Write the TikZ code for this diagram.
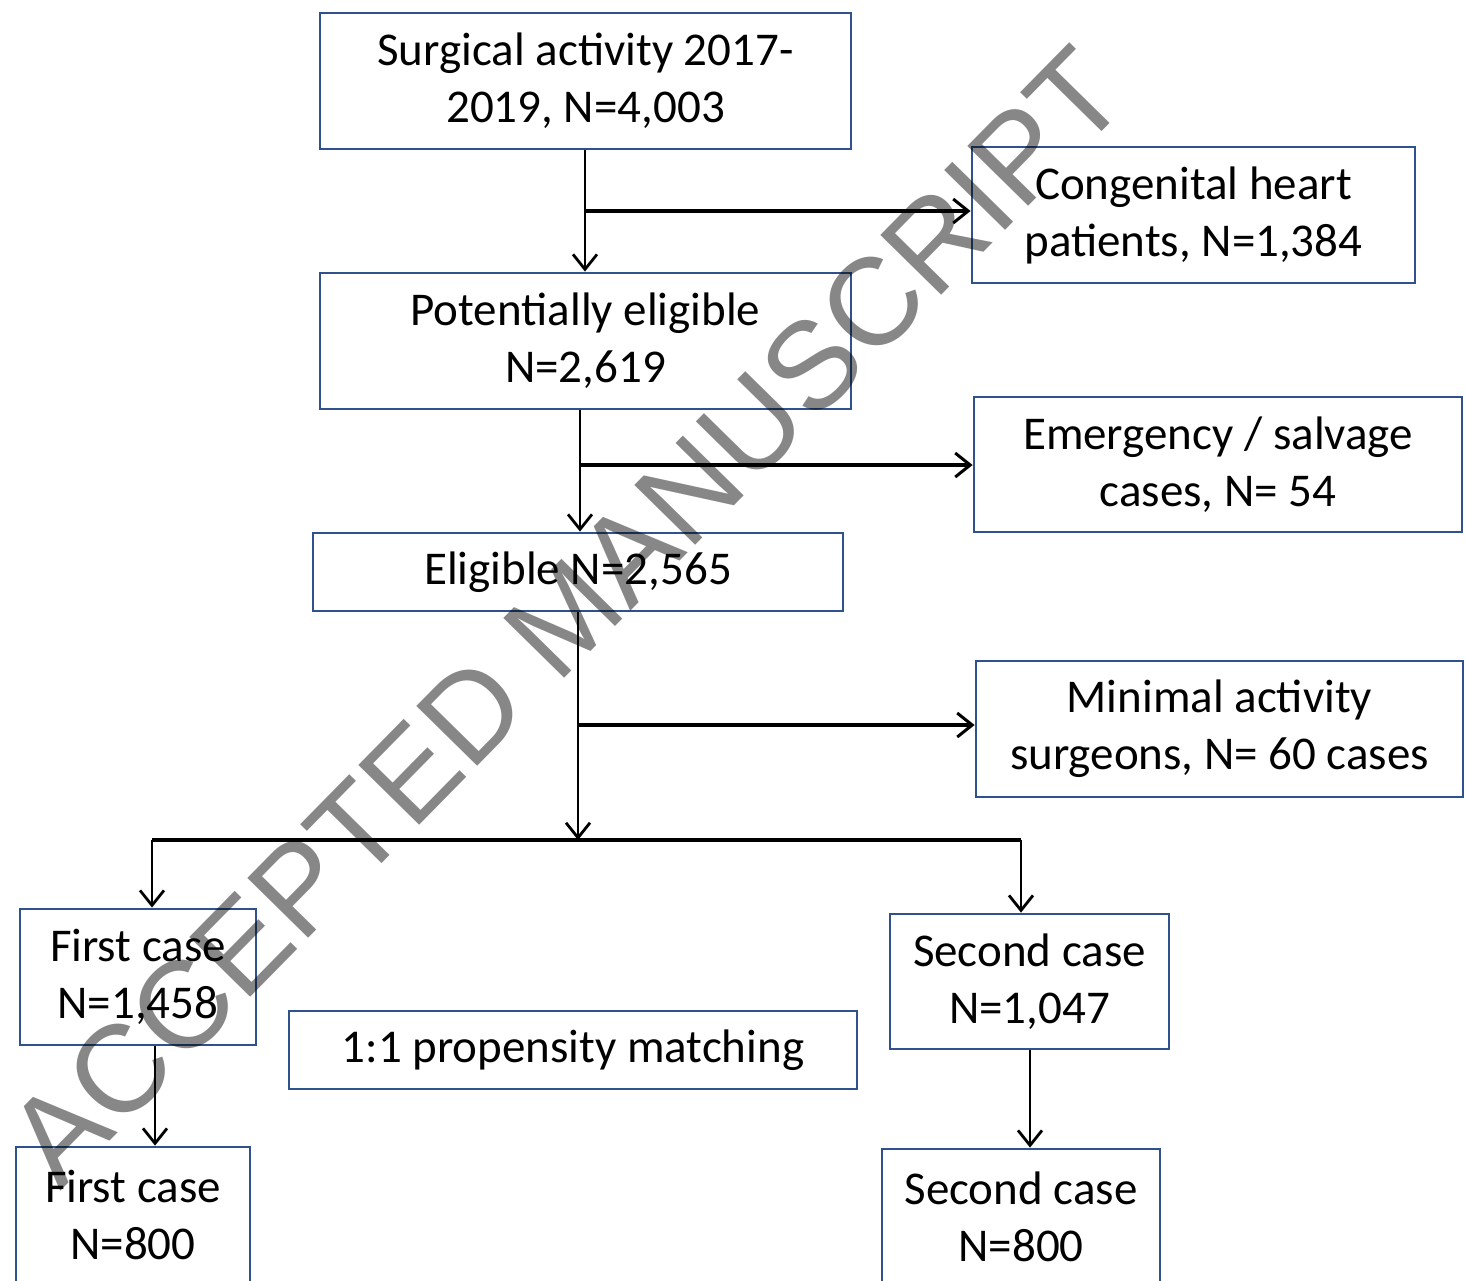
\documentclass[tikz,border=0pt]{standalone}
\usepackage{fontspec}
\setmainfont{Carlito}
\newfontfamily\wmfont{Liberation Sans}
\usetikzlibrary{arrows.meta}
\definecolor{boxblue}{RGB}{47,82,143}
\begin{document}
\begin{tikzpicture}[x=0.5pt,y=-0.5pt,
  box/.style={draw=boxblue,line width=1.4pt,inner sep=0pt,align=center,
    font=\fontsize{23.5}{28.5}\selectfont},
  arr/.style={draw=black,line width=1.4pt,-{Straight Barb[length=7.5pt,width=12pt,line width=1.4pt]}},
  harr/.style={draw=black,line width=1.8pt,-{Straight Barb[length=7.5pt,width=12pt,line width=1.5pt]}},
  hline/.style={draw=black,line width=1.8pt},
  watermark/.style={rotate=45.5,font=\wmfont\fontsize{62}{62}\selectfont,text=black,text opacity=0.47,inner sep=0pt}
]
\useasboundingbox (0,0) rectangle (1465,1280);
\fill[white] (0,0) rectangle (1465,1280);

% boxes
\node[box,minimum width=265.5pt,minimum height=68pt] (b1) at (585.5,81) {Surgical activity 2017-\\2019, N=4,003};
\node[box,minimum width=221.5pt,minimum height=68pt] (b2) at (1193.5,215) {Congenital heart\\patients, N=1,384};
\node[box,minimum width=265.5pt,minimum height=68pt] (b3) at (585.5,341) {Potentially eligible\\N=2,619};
\node[box,minimum width=244pt,minimum height=67.5pt] (b4) at (1218,464.5) {Emergency / salvage\\cases, N= 54};
\node[box,minimum width=265pt,minimum height=39pt] (b5) at (578,572) {Eligible N=2,565};
\node[box,minimum width=243.5pt,minimum height=68pt] (b6) at (1219.5,729) {Minimal activity\\surgeons, N= 60 cases};
\node[box,minimum width=118pt,minimum height=68pt] (b7) at (138,977) {First case\\N=1,458};
\node[box,minimum width=284pt,minimum height=39pt] (b8) at (573,1050) {1:1 propensity matching};
\node[box,minimum width=139.5pt,minimum height=67.5pt] (b9) at (1029.5,981.5) {Second case\\N=1,047};
\node[box,minimum width=117pt,minimum height=68pt] (b10) at (133,1215) {First case\\N=800};
\node[box,minimum width=139pt,minimum height=68pt] (b11) at (1021,1217) {Second case\\N=800};

% junction coordinates
\coordinate (j1) at (585,211);
\coordinate (j2) at (580,465);
\coordinate (j3) at (578,725);
\coordinate (j4) at (578,840);
\coordinate (jl) at (152,840);
\coordinate (jr) at (1021,840);

% connectors
\draw[arr] (b1.south -| j1) -- (b3.north -| j1);
\draw[harr] (j1) -- (j1 -| b2.west);
\draw[arr] (b3.south -| j2) -- (b5.north -| j2);
\draw[harr] (j2) -- (j2 -| b4.west);
\draw[arr] (b5.south -| j3) -- (j4);
\draw[harr] (j3) -- (j3 -| b6.west);
\draw[hline] (jl) -- (jr);
\draw[arr] (jl) -- (b7.north -| jl);
\draw[arr] (jr) -- (b9.north -| jr);
\draw[arr] (b7.south -| 155,0) -- (b10.north -| 155,0);
\draw[arr] (b9.south -| 1030,0) -- (b11.north -| 1030,0);

% watermark
\node[watermark] (wm) at (566,616) {ACCEPTED MANUSCRIPT};
\end{tikzpicture}
\end{document}
